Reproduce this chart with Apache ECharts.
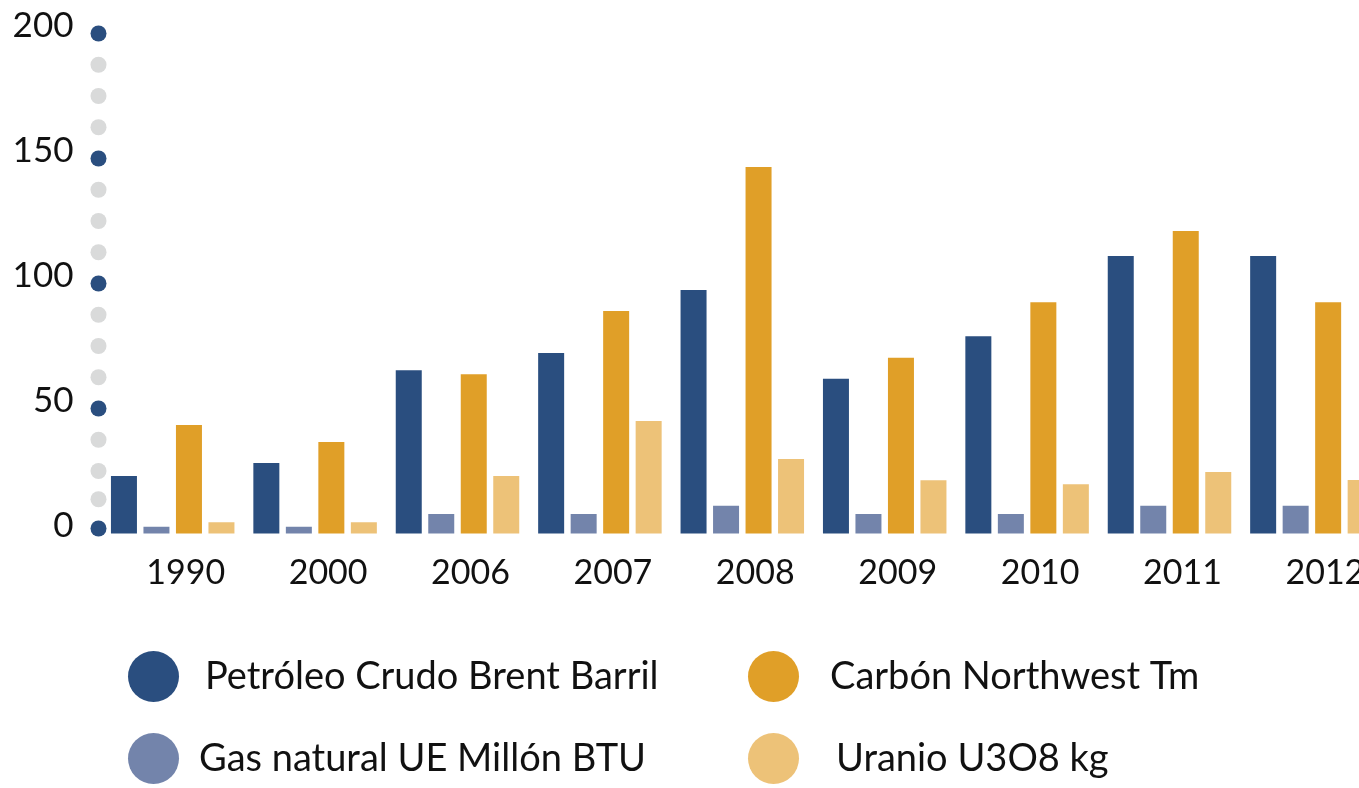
<!DOCTYPE html>
<html>
<head>
<meta charset="utf-8">
<script src="https://cdn.jsdelivr.net/npm/echarts@6/dist/echarts.min.js"></script>
<style>
html,body{margin:0;padding:0;background:#fff;}
#chart{width:1359px;height:788px;}
</style>
</head>
<body>
<div id="chart"></div>
<script>
const categories = ['1990','2000','2006','2007','2008','2009','2010','2011','2012'];
const petroleo = [23, 28.2, 65.3, 72.2, 97.4, 61.9, 78.9, 111, 111];
const gas      = [2.7, 2.7, 7.8, 7.8, 11.1, 7.8, 7.8, 11.1, 11.1];
const carbon   = [43.4, 36.6, 63.7, 89, 146.6, 70.3, 92.5, 121, 92.5];
const uranio   = [4.5, 4.5, 23, 45, 29.8, 21.3, 19.7, 24.6, 21.4];
const seriesNames = ['Petróleo Crudo Brent Barril','Gas natural UE Millón BTU','Carbón Northwest Tm','Uranio U3O8 kg'];
const yTickLabels = [0, 50, 100, 150, 200];
const axisDotValues = [0, 12.5, 25, 37.5, 50, 62.5, 75, 87.5, 100, 112.5, 125, 137.5, 150, 162.5, 175, 187.5, 200];

const colors = ['#2a4e7f', '#7384ab', '#e09f28', '#edc278'];
const FONT = 'Lato';

const chart = echarts.init(document.getElementById('chart'));

const dotData = axisDotValues.map(v => {
  const major = yTickLabels.indexOf(v) >= 0;
  const item = {
    value: [0, v],
    itemStyle: { color: major ? '#2a4e7f' : '#d9dada', opacity: 1 }
  };
  if (v === 0) item.symbolOffset = [-3, -5];
  if (v === 12.5) item.symbolOffset = [-3, -3];
  return item;
});

const barSeries = [petroleo, gas, carbon, uranio].map((d, i) => ({
  name: seriesNames[i],
  type: 'bar',
  data: d,
  barWidth: 26,
  barGap: '25%',
  itemStyle: { color: colors[i] },
  emphasis: { disabled: true }
}));

function makeLegend(name, left, top, textPad) {
  return {
    orient: 'horizontal',
    left: left,
    top: top,
    padding: 0,
    itemWidth: 51,
    itemHeight: 51,
    icon: 'circle',
    selectedMode: false,
    data: [name],
    textStyle: { fontFamily: FONT, fontSize: 38, color: '#111', padding: [4, 0, 0, textPad] }
  };
}

chart.setOption({
  animation: false,
  backgroundColor: '#fff',
  color: colors,
  grid: { left: 101.5, top: 33.5, width: 1281.6, height: 500, containLabel: false, outerBoundsMode: 'none' },
  legend: [
    makeLegend(seriesNames[0], 128, 651, 21),
    makeLegend(seriesNames[1], 128, 733, 15),
    makeLegend(seriesNames[2], 748, 651, 26),
    makeLegend(seriesNames[3], 748, 733, 32)
  ],
  xAxis: [
    {
      type: 'category',
      data: categories,
      axisLine: { show: false },
      axisTick: { show: false },
      axisLabel: { fontFamily: FONT, fontSize: 34, color: '#111', margin: 23, padding: [0, 0, 0, 26] }
    },
    { type: 'value', min: 0, max: 1, show: false }
  ],
  yAxis: {
    type: 'value',
    min: 0,
    max: 200,
    interval: 50,
    axisLine: { show: false },
    axisTick: { show: false },
    splitLine: { show: false },
    axisLabel: {
      fontFamily: FONT, fontSize: 35, color: '#111', margin: 28,
      verticalAlign: 'bottom', lineHeight: 16,
      formatter: v => (yTickLabels.indexOf(v) >= 0 ? String(v) : '')
    }
  },
  series: barSeries.concat([{
    type: 'scatter',
    xAxisIndex: 1,
    yAxisIndex: 0,
    symbol: 'circle',
    symbolSize: 16,
    symbolOffset: [-3, 0],
    clip: false,
    silent: true,
    z: 5,
    itemStyle: { opacity: 1 },
    emphasis: { disabled: true },
    data: dotData
  }])
});
</script>
</body>
</html>
